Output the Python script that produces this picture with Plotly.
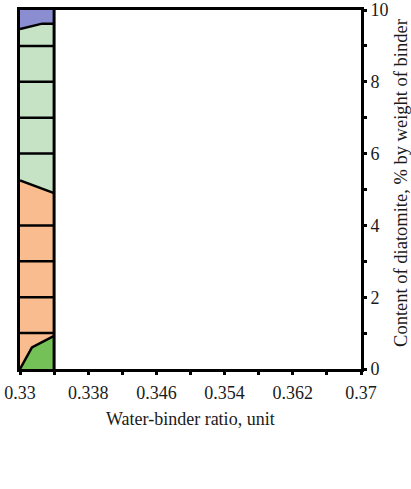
import plotly.graph_objects as go

# Region boundaries (water-binder ratio vs diatomite content)
x_left = 0.33
x_right = 0.334
b1_x = [0.33, 0.3314, 0.334]      # dark green / orange
b1_y = [0.0, 0.6, 0.92]
b2_x = [0.33, 0.334]              # orange / light green
b2_y = [5.25, 4.9]
b3_x = [0.33, 0.3326, 0.334]      # light green / blue
b3_y = [9.47, 9.62, 9.62]
y_top = 10.0
y_bottom = 0.0
hlines = [1, 2, 3, 4, 6, 7, 8, 9]

xticks = [0.33, 0.338, 0.346, 0.354, 0.362, 0.37]
yticks = [0, 2, 4, 6, 8, 10]

fill_green = "#74c157"
fill_orange = "#f9bc8e"
fill_light = "#c6e3c6"
fill_blue = "#8a8dd0"

fig = go.Figure()


def band(lower_x, lower_y, upper_x, upper_y, color):
    xs = list(lower_x) + list(reversed(upper_x))
    ys = list(lower_y) + list(reversed(upper_y))
    fig.add_trace(go.Scatter(x=xs, y=ys, fill="toself", fillcolor=color,
                             mode="lines", line=dict(width=0), hoverinfo="skip"))


band([x_left, x_right], [y_bottom, y_bottom], b1_x, b1_y, fill_green)
band(b1_x, b1_y, b2_x, b2_y, fill_orange)
band(b2_x, b2_y, b3_x, b3_y, fill_light)
band(b3_x, b3_y, [x_left, x_right], [y_top, y_top], fill_blue)

# horizontal lines inside the strip
hx, hy = [], []
for h in hlines:
    hx += [x_left, x_right, None]
    hy += [h, h, None]
fig.add_trace(go.Scatter(x=hx, y=hy, mode="lines",
                         line=dict(color="black", width=2.5), hoverinfo="skip"))

# boundary lines
for bx, by in [(b1_x, b1_y), (b2_x, b2_y), (b3_x, b3_y)]:
    fig.add_trace(go.Scatter(x=bx, y=by, mode="lines",
                             line=dict(color="black", width=2.5), hoverinfo="skip"))

# vertical line at right edge of strip
fig.add_trace(go.Scatter(x=[x_right, x_right], y=[y_bottom, y_top], mode="lines",
                         line=dict(color="black", width=3), hoverinfo="skip"))

font = dict(family="Liberation Serif, Times New Roman, serif", size=18, color="#1a1a1a")

fig.update_layout(
    width=411, height=489,
    margin=dict(l=20, r=50, t=10, b=120),
    plot_bgcolor="white", paper_bgcolor="white",
    showlegend=False,
    font=font,
)

fig.update_xaxes(
    range=[0.33, 0.37], tickvals=xticks, ticktext=[str(v) for v in xticks],
    showgrid=False, zeroline=False, automargin=False,
    showline=True, linecolor="black", linewidth=3, mirror=True,
    ticks="outside", ticklen=3, tickwidth=3, tickcolor="black", ticklabelstandoff=2,
    minor=dict(dtick=0.004, tick0=0.33, ticks="outside", ticklen=3, tickwidth=3, tickcolor="black"),
)
fig.update_yaxes(
    range=[0, 10], side="right", tickvals=yticks,
    showgrid=False, zeroline=False, automargin=False,
    showline=True, linecolor="black", linewidth=3, mirror=True,
    ticks="outside", ticklen=3, tickwidth=3, tickcolor="black",
    minor=dict(dtick=1, tick0=0, ticks="outside", ticklen=3, tickwidth=3, tickcolor="black"),
)

fig.add_annotation(text="Water-binder ratio, unit", xref="paper", yref="paper",
                   x=0.5, y=-0.139, yanchor="middle", showarrow=False, font=font)
fig.add_annotation(text="Content of diatomite, % by weight of binder", xref="paper", yref="paper",
                   x=1.117, y=0.518, xanchor="center", yanchor="middle", textangle=-90,
                   showarrow=False, font=dict(font, size=18.5))

# drop the default page margin so the figure sits at the window's corner
fig.write_html("out.html", config={"displayModeBar": False},
               post_script="document.body.style.margin='0';")
